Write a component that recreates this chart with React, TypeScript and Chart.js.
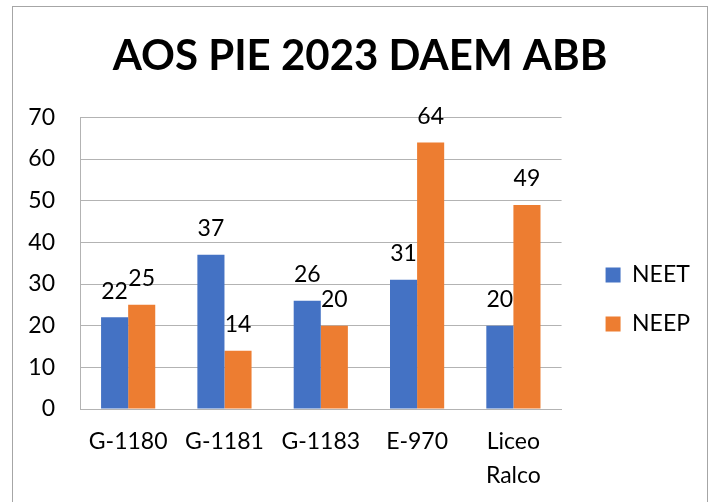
import React, { useEffect, useRef } from 'react';
import { Chart, registerables } from 'chart.js';

Chart.register(...registerables);

const title = 'AOS PIE 2023 DAEM ABB';
const categories: (string | string[])[] = ['G-1180', 'G-1181', 'G-1183', 'E-970', ['Liceo', 'Ralco']];
const neetValues = [22, 37, 26, 31, 20];
const neepValues = [25, 14, 20, 64, 49];
const seriesNames = ['NEET', 'NEEP'];
const yMin = 0;
const yMax = 70;
const yStep = 10;

const FONT = 'Lato, "Open Sans", sans-serif';
const BLUE = '#4472C4';
const ORANGE = '#ED7D31';
const GRID = '#b3b3b3';

export default function App() {
  const ref = useRef<HTMLCanvasElement>(null);

  useEffect(() => {
    if (!ref.current) return;

    const framePlugin = {
      id: 'frame',
      beforeDraw(chart: any) {
        const ctx = chart.ctx;
        ctx.save();
        ctx.fillStyle = '#ffffff';
        ctx.fillRect(0, 0, chart.width, chart.height);
        ctx.strokeStyle = '#a6a6a6';
        ctx.lineWidth = 1;
        ctx.strokeRect(12.5, 6.5, 695, 520);
        ctx.restore();
      },
    };

    const valueLabels = {
      id: 'valueLabels',
      afterDatasetsDraw(chart: any) {
        const ctx = chart.ctx;
        ctx.save();
        ctx.font = `23px ${FONT}`;
        ctx.fillStyle = '#000';
        ctx.textAlign = 'center';
        ctx.textBaseline = 'middle';
        chart.data.datasets.forEach((ds: any, i: number) => {
          const meta = chart.getDatasetMeta(i);
          meta.data.forEach((bar: any, j: number) => {
            ctx.fillText(String(ds.data[j]), bar.x, bar.y - 26);
          });
        });
        ctx.restore();
      },
    };

    const blockShift = {
      id: 'blockShift',
      afterLayout(chart: any) {
        const l = chart.legend;
        if (l) {
          const dx = 18;
          const dy = 50;
          l.left += dx;
          l.right += dx;
          l.top += dy;
          l.bottom += dy;
        }
        const t = chart.titleBlock;
        if (t) {
          t.left += 13;
          t.right += 13;
        }
      },
    };

    const chart = new Chart(ref.current, {
      type: 'bar',
      data: {
        labels: categories as any,
        datasets: [
          { label: seriesNames[0], data: neetValues, backgroundColor: BLUE, categoryPercentage: 0.5625, barPercentage: 1 },
          { label: seriesNames[1], data: neepValues, backgroundColor: ORANGE, categoryPercentage: 0.5625, barPercentage: 1 },
        ],
      },
      options: {
        animation: false,
        responsive: false,
        layout: { padding: { top: 6, left: 12, right: 29, bottom: 9 } },
        plugins: {
          title: {
            display: true,
            text: title,
            color: '#000',
            font: { family: FONT, size: 42, weight: 'bold', lineHeight: 1.2 },
            padding: { top: 25, bottom: 36 },
          },
          legend: {
            position: 'right',
            labels: {
              color: '#000',
              font: { family: FONT, size: 23 },
              boxWidth: 15,
              boxHeight: 15,
              padding: 26,
            },
          },
          tooltip: { enabled: false },
        },
        scales: {
          x: {
            grid: { display: false, drawTicks: false },
            border: { display: true, color: GRID },
            ticks: { color: '#000', font: { family: FONT, size: 23, lineHeight: 1.5 }, padding: 15, maxRotation: 0 },
            afterFit(s: any) { s.height = 84; },
          },
          y: {
            min: yMin,
            max: yMax,
            grid: { color: GRID, drawTicks: false },
            border: { display: true, color: GRID },
            ticks: { stepSize: yStep, color: '#000', font: { family: FONT, size: 23 }, padding: 25 },
            afterFit(s: any) { s.width = 68; },
          },
        },
      },
      plugins: [framePlugin, valueLabels, blockShift],
    });

    return () => chart.destroy();
  }, []);

  return (
    <div style={{ position: 'fixed', left: 0, top: 0, width: 711, height: 502, background: '#fff' }}>
      <canvas ref={ref} width={711} height={502} style={{ width: 711, height: 502, display: 'block' }} />
    </div>
  );
}
